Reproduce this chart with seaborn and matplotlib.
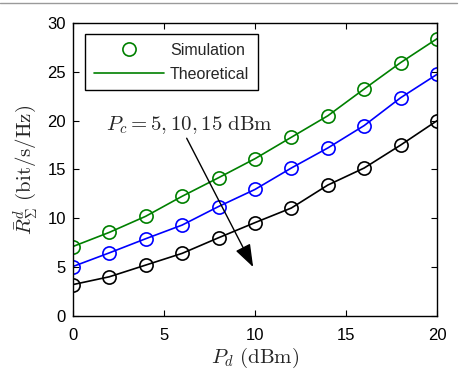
import numpy as np
import pandas as pd
import seaborn as sns
import matplotlib.pyplot as plt
from matplotlib.lines import Line2D

# data
pd_dbm = [0, 2, 4, 6, 8, 10, 12, 14, 16, 18, 20]
rate_pc5 = [7.1, 8.55, 10.2, 12.25, 14.15, 16.1, 18.3, 20.5, 23.25, 25.95, 28.4]
rate_pc10 = [5.05, 6.45, 7.9, 9.3, 11.2, 12.95, 15.15, 17.2, 19.5, 22.35, 24.75]
rate_pc15 = [3.2, 4.0, 5.2, 6.4, 8.0, 9.55, 11.05, 13.4, 15.15, 17.5, 20.0]
series_names = ['5', '10', '15']
series_colors = ['#008000', '#0000ff', '#000000']

df = pd.DataFrame({
    'Pd': pd_dbm * 3,
    'R': rate_pc5 + rate_pc10 + rate_pc15,
    'Pc': [n for n in series_names for _ in pd_dbm],
})

sns.set_style('ticks')
plt.rcParams['font.family'] = ['Liberation Sans', 'DejaVu Sans']
plt.rcParams['mathtext.fontset'] = 'cm'

fig = plt.figure(figsize=(4.64, 3.72), dpi=100)
ax = fig.add_axes([0.157, 0.151, 0.785, 0.787])

palette = dict(zip(series_names, series_colors))
sns.lineplot(data=df, x='Pd', y='R', hue='Pc', palette=palette, lw=1.2,
             legend=False, ax=ax)
for name in series_names:
    sub = df[df['Pc'] == name]
    ax.plot(sub['Pd'], sub['R'], ls='none', marker='o', ms=9.5,
            mfc='none', mec=palette[name], mew=1.2)

ax.set_xlim(0, 20)
ax.set_ylim(0, 30)
ax.set_xticks([0, 5, 10, 15, 20])
ax.set_yticks([0, 5, 10, 15, 20, 25, 30])
ax.tick_params(direction='in', top=True, right=True, labelsize=12, length=4,
               width=0.8, colors='black', pad=5)
ax.tick_params(axis='x', pad=9)
for s in ax.spines.values():
    s.set_visible(True)
    s.set_linewidth(1.0)
    s.set_color('black')
ax.set_xlabel(r'$P_d\ (\mathrm{dBm})$', fontsize=15, labelpad=2)
ax.set_ylabel(r'$\bar{R}_{\Sigma}^{d}\ (\mathrm{bit/s/Hz})$', fontsize=15, labelpad=5)

handles = [
    Line2D([], [], ls='none', marker='o', ms=9.5, mfc='none', mec='#008000', mew=1.2),
    Line2D([], [], color='#008000', lw=1.2),
]
leg = ax.legend(handles, ['Simulation', 'Theoretical'], loc='upper left',
                bbox_to_anchor=(0.012, 0.99), fontsize=11.5, handlelength=4.4,
                fancybox=False, framealpha=1, edgecolor='black',
                borderpad=0.55, labelspacing=0.55, handletextpad=0.35)
leg.get_frame().set_linewidth(1.0)

ax.annotate('', xy=(9.9, 5.0), xytext=(6.25, 18.2),
            arrowprops=dict(arrowstyle='-|>,head_length=1.4,head_width=0.5',
                        color='black', lw=1.0, shrinkA=0, shrinkB=0))
ax.text(6.4, 19.5, r'$P_c = 5, 10, 15\ \mathrm{dBm}$', fontsize=15,
        ha='center', va='center')

# faint top edge of the original image frame
fig.add_artist(Line2D([0.0, 0.985], [0.992, 0.992], transform=fig.transFigure,
                      color='#9a9a9a', lw=1.0))

fig.savefig('out.png', dpi=100)
